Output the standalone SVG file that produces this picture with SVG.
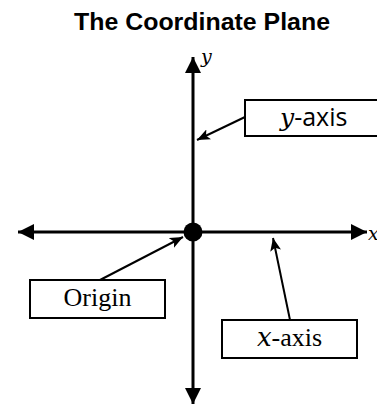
<svg xmlns="http://www.w3.org/2000/svg" width="377" height="405" viewBox="0 0 377 405">
  <style>
    .axis { stroke: #000; stroke-width: 3; fill: none; }
    .ptr { stroke: #000; stroke-width: 2; fill: none; }
    .box { fill: #fff; stroke: #000; stroke-width: 2; }
    .serif { font-family: "Liberation Serif", "Times New Roman", serif; fill: #000; }
    .sans { font-family: "Open Sans", "Liberation Sans", sans-serif; fill: #000; }
    .var { font-family: "DejaVu Serif", "Liberation Serif", serif; font-style: italic; fill: #000; }
  </style>
  <defs>
    <marker id="axisHead" markerUnits="userSpaceOnUse" markerWidth="16" markerHeight="16" refX="16" refY="8" orient="auto-start-reverse" viewBox="0 0 16 16">
      <path d="M0,0 L16,8 L0,16 Z" fill="#000"/>
    </marker>
    <marker id="ptrHead" markerUnits="userSpaceOnUse" markerWidth="13" markerHeight="11" refX="13" refY="5.5" orient="auto" viewBox="0 0 13 11">
      <path d="M0,0 L13,5.5 L0,11 L3,5.5 Z" fill="#000"/>
    </marker>
  </defs>

  <g id="title">
    <text x="202" y="30" font-family="'Liberation Sans', Arial, sans-serif" font-size="23.5" font-weight="bold" text-anchor="middle" textLength="256" lengthAdjust="spacingAndGlyphs">The Coordinate Plane</text>
  </g>

  <g id="axes">
    <line class="axis" x1="18" y1="232" x2="367" y2="232" marker-start="url(#axisHead)" marker-end="url(#axisHead)"/>
    <line class="axis" x1="193" y1="57" x2="193" y2="404" marker-start="url(#axisHead)" marker-end="url(#axisHead)"/>
    <text class="var" x="201" y="63" font-size="19">y</text>
    <text class="var" x="368" y="240" font-size="19">x</text>
  </g>

  <g id="origin-dot">
    <circle cx="193" cy="232" r="9.5" fill="#000"/>
  </g>

  <g id="connectors">
    <line class="ptr" x1="245" y1="117" x2="197" y2="140" marker-end="url(#ptrHead)"/>
    <line class="ptr" x1="100" y1="280" x2="183" y2="237" marker-end="url(#ptrHead)"/>
    <line class="ptr" x1="290" y1="320" x2="273" y2="238" marker-end="url(#ptrHead)"/>
  </g>

  <g id="y-axis-label">
    <rect class="box" x="245" y="100" width="133" height="36"/>
    <text x="280" y="126" font-size="25"><tspan class="var">y</tspan><tspan class="sans">-axis</tspan></text>
  </g>

  <g id="origin-label">
    <rect class="box" x="30" y="280" width="135" height="38"/>
    <text class="serif" x="97.5" y="306" font-size="26" text-anchor="middle">Origin</text>
  </g>

  <g id="x-axis-label">
    <rect class="box" x="222" y="320" width="135" height="38"/>
    <text x="289.5" y="346" font-size="26" text-anchor="middle"><tspan class="var">x</tspan><tspan class="serif">-axis</tspan></text>
  </g>
</svg>
